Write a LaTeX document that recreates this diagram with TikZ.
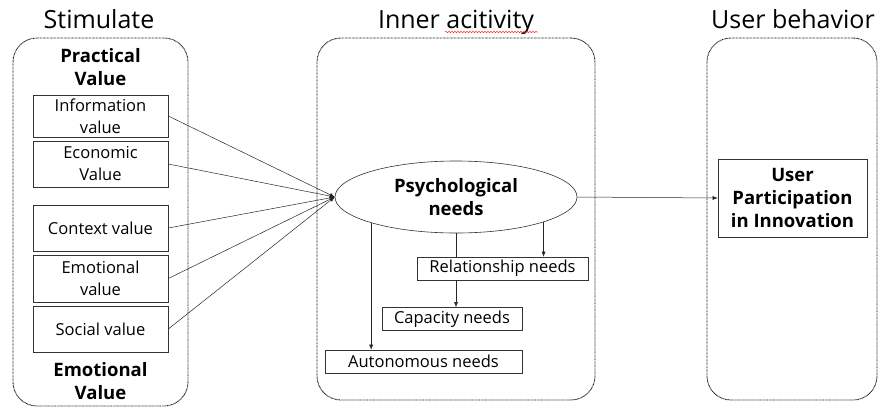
\documentclass[tikz,border=0pt]{standalone}
\usepackage{fontspec}
\setmainfont{Open Sans}
\usetikzlibrary{shapes.geometric,arrows.meta,decorations.pathmorphing}
\begin{document}
\begin{tikzpicture}[x=1pt,y=-1pt,
  container/.style={draw=black!90,dash pattern=on 0.8pt off 0.6pt,line width=0.9pt,rounded corners=24pt,inner sep=0pt},
  title/.style={anchor=base,font=\fontsize{25}{28}\selectfont},
  valbox/.style={draw=black!80,line width=0.6pt,minimum width=135pt,align=center,inner sep=0pt,
    font=\fontsize{16.5}{22}\selectfont},
  needbox/.style={draw=black!80,line width=0.6pt,inner sep=0pt,minimum height=23pt,
    font=\fontsize{16.5}{18}\selectfont},
  grouplabel/.style={align=center,font=\bfseries\fontsize{18.5}{23}\selectfont},
  link/.style={line width=0.5pt,black!85},
  arr/.style={link,-{Latex[length=5pt,width=4pt]}}
]
\useasboundingbox (0,0) rectangle (879,407);

% column frames
\node[container,minimum width=175pt,minimum height=368pt] (stimframe) at (100.5,222) {};
\node[container,minimum width=278pt,minimum height=362pt] (innerframe) at (456,219) {};
\node[container,minimum width=170pt,minimum height=362pt] (userframe) at (792,219) {};

% column titles
\node[title] (ttlstim) at (99,28) {Stimulate};
\node[title] (ttlinner) at (456,28) {Inner acitivity};
\node[title] (ttluser) at (793,28) {User behavior};
\draw[red!80,line width=0.5pt,decoration={snake,amplitude=0.8pt,segment length=3pt},decorate]
  (445,32) -- (538,32);

% stimulus values
\node[grouplabel] (practical) at (100.5,67) {Practical\\Value};
\node[valbox,minimum height=42pt] (info) at (100.5,116) {Information\\value};
\node[valbox,minimum height=46pt] (econ) at (100.5,164) {Economic\\Value};
\node[valbox,minimum height=46pt] (context) at (100.5,228) {Context value};
\node[valbox,minimum height=47pt] (emotion) at (100.5,278.5) {Emotional\\value};
\node[valbox,minimum height=46pt] (social) at (100.5,329) {Social value};
\node[grouplabel] (emolabel) at (100.5,381) {Emotional\\Value};

% psychological needs
\node[ellipse,draw=black!80,line width=0.6pt,minimum width=242pt,minimum height=72pt,inner sep=0pt,
  align=center,font=\bfseries\fontsize{18.5}{23}\selectfont] (psy) at (456,197) {Psychological\\needs};
\node[needbox,minimum width=171pt] (rel) at (502.5,268.5) {Relationship needs};
\node[needbox,minimum width=140pt] (cap) at (452,319) {Capacity needs};
\node[needbox,minimum width=197pt] (auto) at (423.5,361.5) {Autonomous needs};

% user behaviour
\node[draw=black!80,line width=0.6pt,minimum width=149pt,minimum height=78pt,inner sep=0pt,
  align=center,font=\bfseries\fontsize{18.5}{23}\selectfont] (user) at (792.5,198) {User\\Participation\\in Innovation};

% connectors
\foreach \src in {info,econ,context,emotion,social}
  \draw[arr] (\src.east) -- (psy.west);
\draw[arr] (psy.east) -- (user.west);
\draw[link] (psy.south) -- (psy.south |- rel.north);
\draw[arr] (psy.-16.5) -- (psy.-16.5 |- rel.north);
\draw[arr] (psy.south |- rel.south) -- (psy.south |- cap.north);
\draw[arr] (psy.-163.5) -- (psy.-163.5 |- auto.north);
\end{tikzpicture}
\end{document}
